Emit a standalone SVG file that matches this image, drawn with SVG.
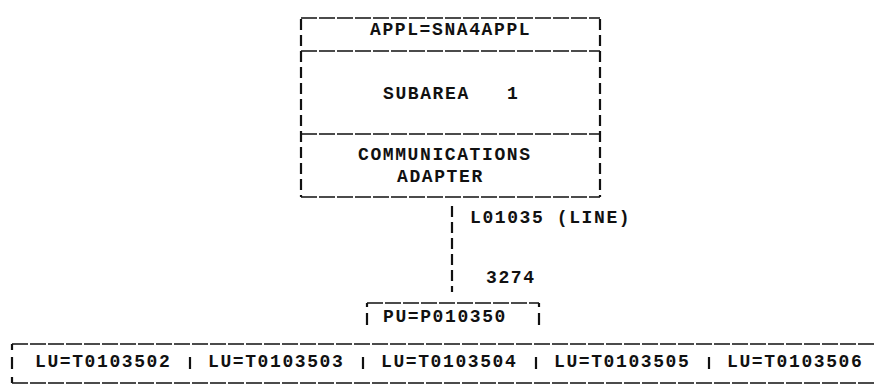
<svg xmlns="http://www.w3.org/2000/svg" width="878" height="385" viewBox="0 0 878 385">
  <style>
    .t { font-family: "Liberation Mono", "DejaVu Sans Mono", monospace; font-size: 18px; font-weight: bold; letter-spacing: 1.6px; fill: #111; }
    .v { stroke: #111; stroke-width: 2.2; fill: none; stroke-dasharray: 11 5; }
    .h { stroke: #111; stroke-width: 1.6; fill: none; stroke-dasharray: 16 2; }
    .s { stroke: #111; stroke-width: 2.2; fill: none; }
  </style>
  <rect width="878" height="385" fill="#fff"/>

  <!-- Host subarea box -->
  <g id="subarea1">
    <path class="h" d="M301 18 H600"/>
    <path class="h" d="M301 51 H600"/>
    <path class="h" d="M301 134 H600"/>
    <path class="h" d="M301 197 H600"/>
    <path class="v" d="M301 19 V197"/>
    <path class="v" d="M600 19 V197"/>
    <text class="t" x="370" y="35">APPL=SNA4APPL</text>
    <text class="t" x="383" y="99" xml:space="preserve">SUBAREA   1</text>
    <text class="t" x="358" y="160">COMMUNICATIONS</text>
    <text class="t" x="397" y="182">ADAPTER</text>
  </g>

  <!-- Line to the 3274 controller -->
  <g id="connectors">
    <path class="v" d="M452 206 V292"/>
    <text class="t" x="470" y="223" xml:space="preserve">L01035 (LINE)</text>
    <text class="t" x="486" y="283">3274</text>
  </g>

  <!-- Physical unit -->
  <g id="pu">
    <path class="h" d="M367 303 H539"/>
    <path class="s" d="M367 303 V307 M539 303 V307"/>
    <path class="s" d="M367 313 V325 M539 313 V325"/>
    <text class="t" x="383" y="322">PU=P010350</text>
  </g>

  <!-- Logical units -->
  <g id="lus">
    <path class="h" d="M12 344 H876"/>
    <path class="h" d="M12 383 H876"/>
    <path class="s" d="M12 344 V350 M12 357 V369 M12 377 V383"/>
    <path class="s" d="M190 357 V369 M363 357 V369 M536 357 V369 M709 357 V369"/>
    <text class="t" x="35" y="367">LU=T0103502</text>
    <text class="t" x="208" y="367">LU=T0103503</text>
    <text class="t" x="381" y="367">LU=T0103504</text>
    <text class="t" x="554" y="367">LU=T0103505</text>
    <text class="t" x="727" y="367">LU=T0103506</text>
  </g>
</svg>
